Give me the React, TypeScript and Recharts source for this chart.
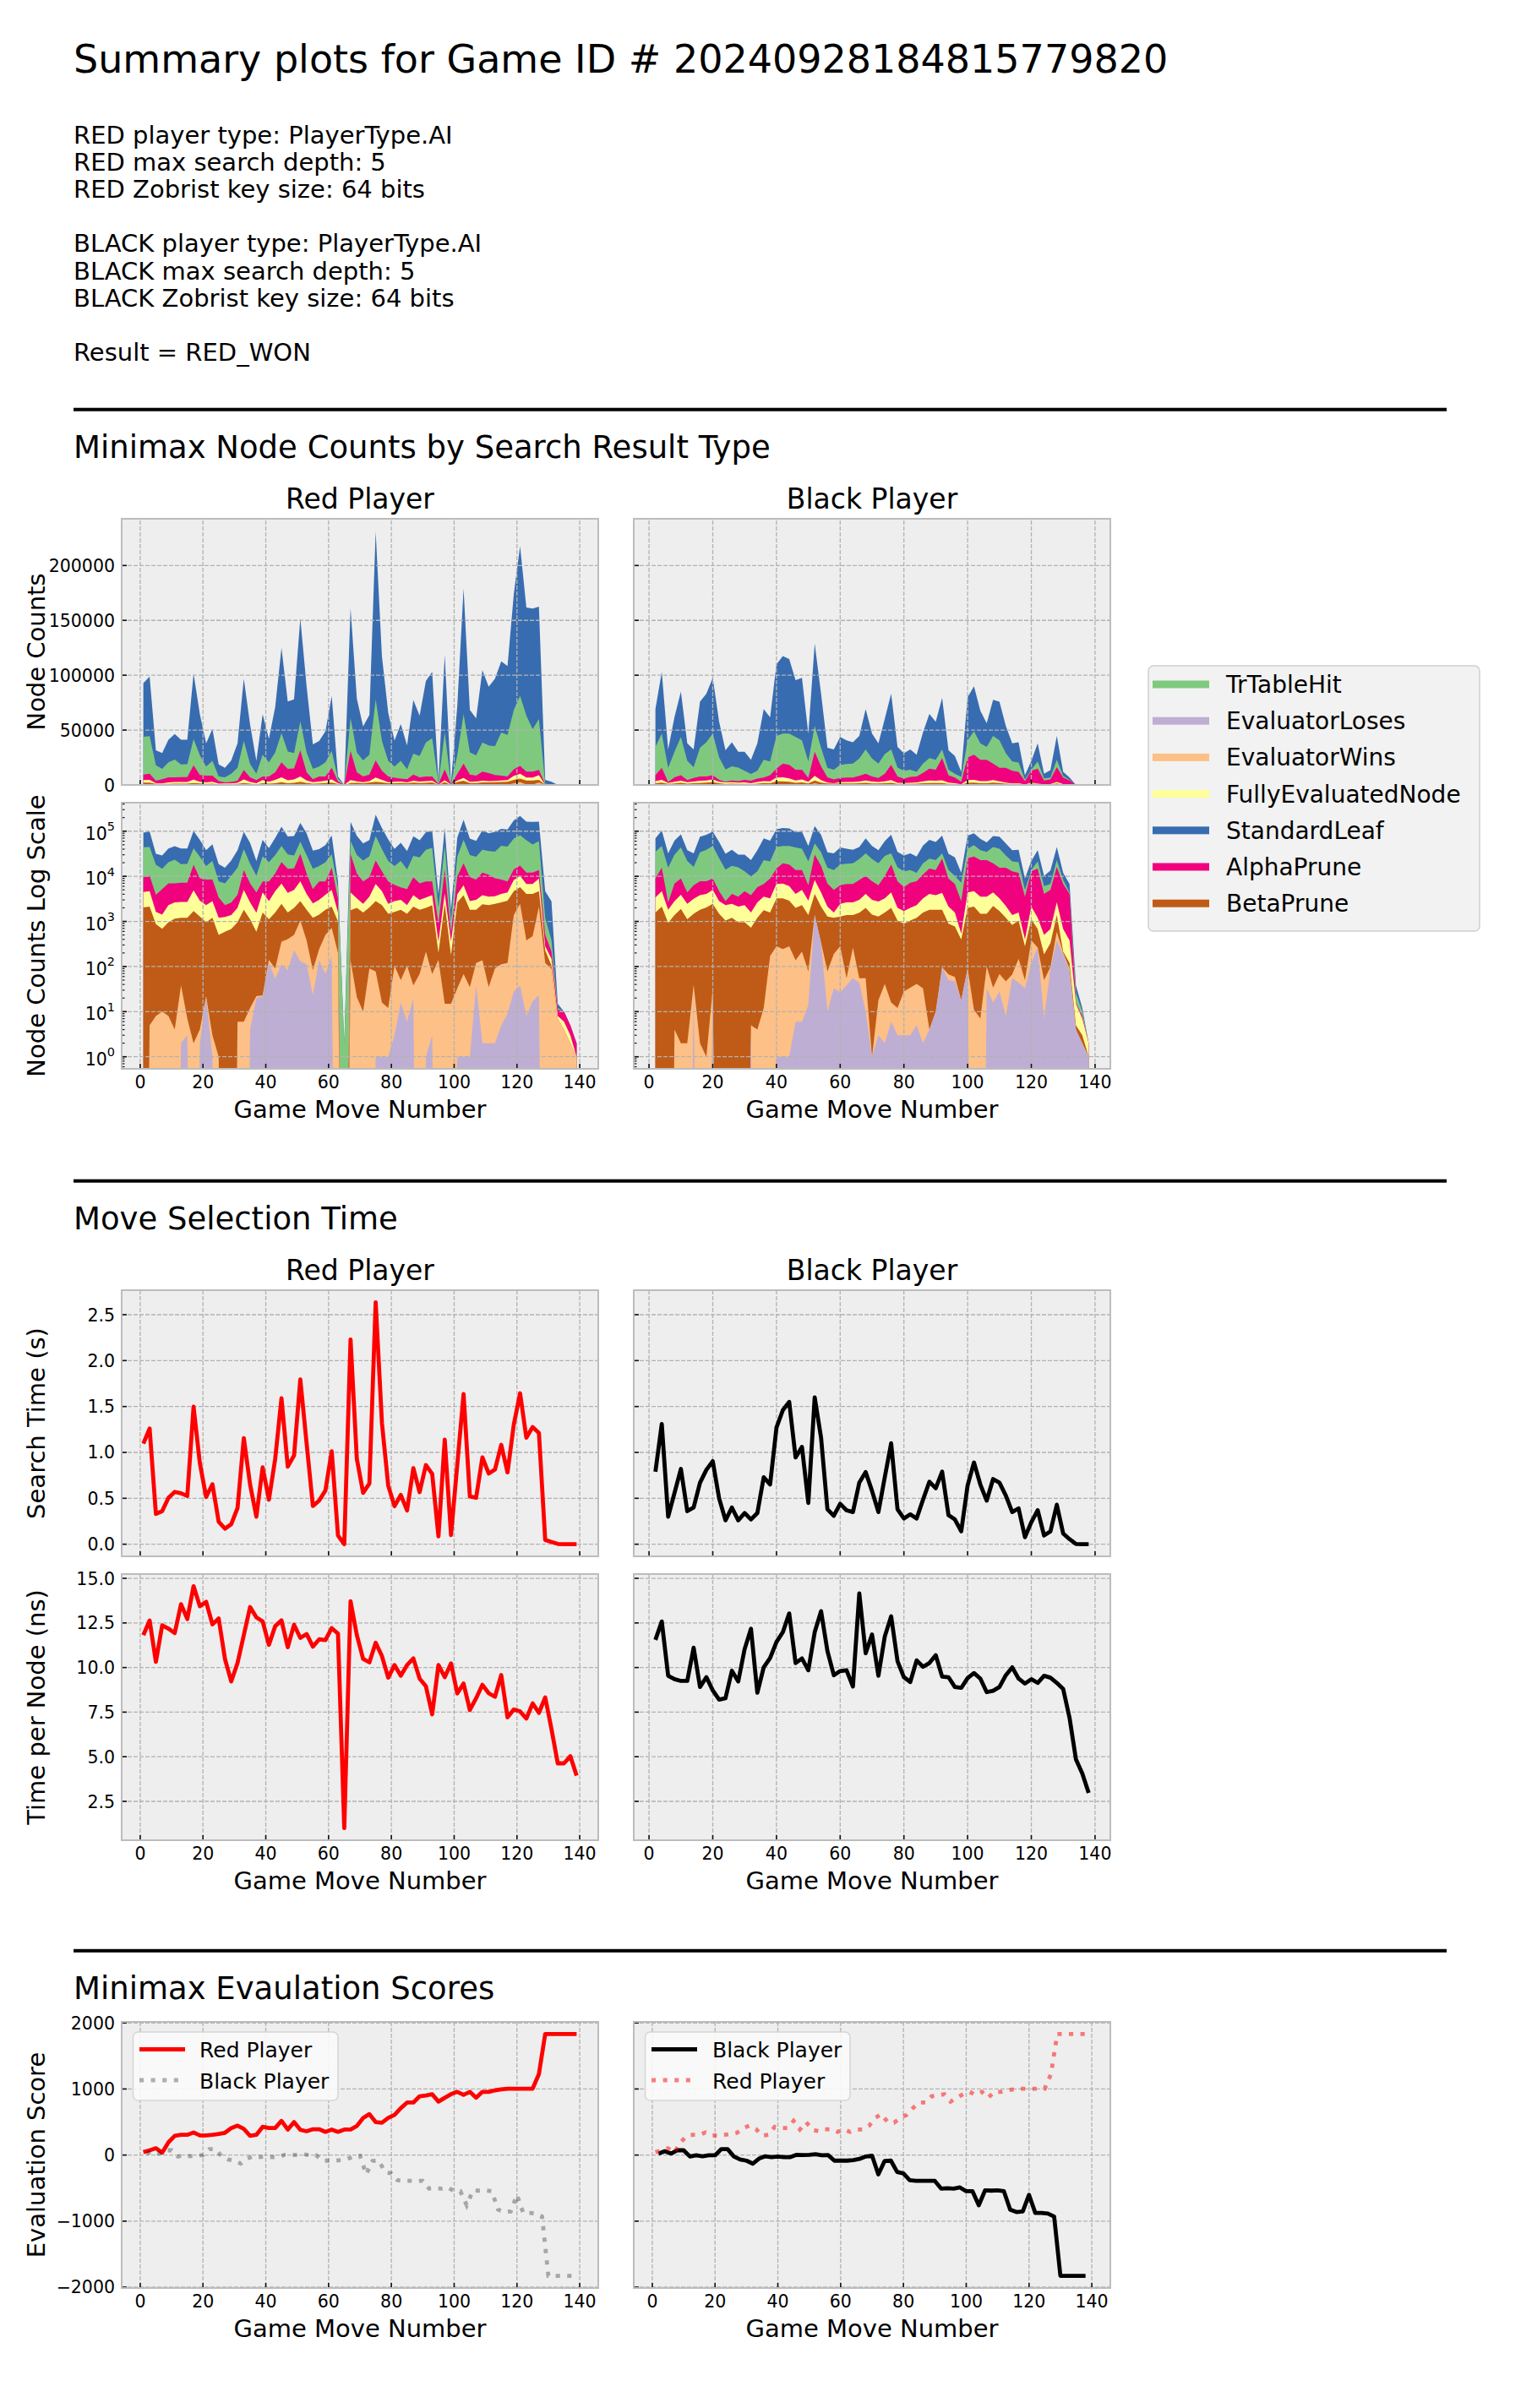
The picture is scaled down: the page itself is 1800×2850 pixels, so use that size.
import React from "react";
import {
  ComposedChart,
  Area,
  Line,
  XAxis,
  YAxis,
  CartesianGrid,
  ReferenceLine,
} from "recharts";

const FONT = "DejaVu Sans";

// Move numbers: red plays the odd moves, black the even ones
const redMoves = [
  1, 3, 5, 7, 9, 11, 13, 15, 17, 19, 21, 23, 25, 27, 29, 31, 33, 35, 37, 39,
  41, 43, 45, 47, 49, 51, 53, 55, 57, 59, 61, 63, 65, 67, 69, 71, 73, 75, 77, 79,
  81, 83, 85, 87, 89, 91, 93, 95, 97, 99, 101, 103, 105, 107, 109, 111, 113, 115, 117, 119,
  121, 123, 125, 127, 129, 131, 133, 135, 137, 139,
];
const blackMoves = [
  2, 4, 6, 8, 10, 12, 14, 16, 18, 20, 22, 24, 26, 28, 30, 32, 34, 36, 38, 40,
  42, 44, 46, 48, 50, 52, 54, 56, 58, 60, 62, 64, 66, 68, 70, 72, 74, 76, 78, 80,
  82, 84, 86, 88, 90, 92, 94, 96, 98, 100, 102, 104, 106, 108, 110, 112, 114, 116, 118, 120,
  122, 124, 126, 128, 130, 132, 134, 136, 138,
];

// Node counts by search result type - red player
const redTrTableHit = [
  34400, 34100, 14100, 9500, 13600, 16200, 11400, 11600, 23800, 18000,
  8300, 13400, 4300, 4700, 7700, 11600, 26300, 12000, 5900, 19900,
  12900, 18100, 26600, 15700, 14000, 26500, 18100, 9500, 9100, 12900,
  15500, 2400, 2, 30000, 18100, 14700, 18100, 55500, 27100, 14200,
  10300, 16200, 9000, 18900, 19300, 31000, 34900, 1110, 33500, 440,
  17000, 45100, 20200, 18500, 26600, 25300, 26300, 39200, 38000, 54200,
  64000, 51100, 38700, 46400, 700, 166, 1, 0, 0, 0,
];
const redEvaluatorLoses = [
  0, 0, 0, 0, 0, 0, 2, 3, 0, 2,
  21, 1, 0, 0, 0, 0, 0, 4, 20, 22,
  120, 54, 112, 84, 230, 130, 112, 23, 138, 68,
  170, 0, 0, 0, 0, 0, 0, 1, 1, 1,
  3, 16, 6, 20, 0, 1, 3, 0, 0, 0,
  1, 1, 1, 38, 2, 2, 2, 5, 9, 28,
  38, 8, 17, 23, 0, 0, 0, 0, 0, 0,
];
const redEvaluatorWins = [
  0, 5, 8, 10, 8, 4, 36, 4, 2, 2,
  1, 2, 1, 0, 0, 6, 6, 8, 2, 1,
  20, 36, 243, 323, 270, 900, 268, 61, 107, 432,
  550, 200, 0, 138, 21, 10, 90, 77, 15, 11,
  101, 34, 98, 18, 68, 213, 65, 140, 15, 15,
  32, 67, 34, 82, 136, 33, 88, 107, 111, 1352,
  2412, 372, 453, 2117, 120, 89, 7, 4, 2, 1,
];
const redFullyEvaluatedNode = [
  2430, 2540, 750, 720, 1335, 1480, 1490, 1490, 3200, 1590,
  1335, 1620, 700, 670, 704, 1045, 3190, 1510, 960, 2790,
  1700, 3100, 4470, 2690, 3010, 4940, 2250, 1310, 1610, 2070,
  2870, 600, 0, 2590, 1240, 870, 1510, 3940, 2390, 970,
  1200, 1200, 810, 1660, 1200, 1390, 1510, 155, 1720, 177,
  1350, 2510, 1000, 1200, 1400, 1260, 1180, 1440, 1490, 3640,
  4450, 2690, 2690, 4230, 53, 43, 1, 2, 1, 0,
];
const redStandardLeaf = [
  49000, 54400, 13500, 14300, 20700, 23200, 22700, 22500, 59600, 37500,
  21100, 29100, 10900, 8500, 12100, 22400, 56800, 36000, 11600, 36900,
  21400, 41300, 77800, 45600, 49000, 93700, 60300, 22200, 23200, 28400,
  50000, 2100, 0, 100000, 49000, 31000, 36100, 153100, 77000, 43900,
  23700, 33600, 21900, 49000, 36900, 56000, 60400, 1980, 71000, 800,
  45000, 114500, 38700, 33600, 65800, 53400, 61500, 65000, 62700, 105600,
  136200, 98600, 109900, 102400, 3500, 2420, 3, 0, 0, 0,
];
const redAlphaPrune = [
  5030, 5620, 2280, 3790, 4710, 4370, 4510, 4510, 13100, 6120,
  6210, 5680, 2200, 1040, 1220, 1900, 8690, 4370, 2850, 3330,
  4880, 6920, 13700, 10430, 9990, 23740, 7530, 2690, 4680, 3810,
  10490, 1600, 0, 26630, 8360, 5250, 5950, 15640, 8220, 5250,
  3680, 2680, 2910, 5700, 3980, 4310, 3900, 535, 10030, 205,
  6000, 13090, 6680, 5480, 8300, 7250, 5370, 4430, 3330, 5880,
  7100, 5340, 5340, 4790, 218, 66, 3, 4, 2, 1,
];
const redBetaPrune = [
  2040, 2135, 862, 680, 947, 1146, 1162, 1193, 1698, 1286,
  934, 1198, 499, 590, 676, 949, 1814, 1108, 568, 1557,
  980, 1490, 2095, 1173, 1500, 1790, 1440, 1116, 1165, 1320,
  1420, 800, 0, 1640, 1980, 1570, 1950, 2742, 2274, 1468,
  1516, 1770, 1376, 2102, 1752, 1786, 2222, 60, 2435, 163,
  2597, 3732, 1785, 1700, 2262, 2255, 2360, 2518, 2760, 3300,
  3300, 3690, 3600, 2540, 109, 16, 0, 0, 0, 0,
];

// Node counts by search result type - black player
const blackTrTableHit = [
  25800, 31300, 12870, 23280, 34790, 17530, 9890, 26140, 31140, 37890,
  20420, 11280, 12930, 12250, 8220, 6200, 7150, 16140, 12490, 29900,
  27300, 28600, 29900, 26900, 15090, 23500, 16900, 8580, 8790, 11890,
  12340, 12740, 15680, 22200, 16240, 13190, 18000, 14200, 8040, 7150,
  6560, 4240, 8500, 9700, 9100, 7900, 4890, 3440, 4420, 15600,
  21500, 15100, 11800, 25200, 25200, 13300, 8500, 8400, 1460, 900,
  6600, 1960, 1750, 6700, 1560, 300, 10, 2, 0,
];
const blackEvaluatorLoses = [
  0, 0, 0, 0, 0, 0, 38, 0, 0, 31,
  0, 0, 0, 0, 0, 4, 0, 0, 0, 1,
  1, 1, 6, 6, 14, 1380, 330, 10, 33, 27,
  38, 55, 44, 10, 1, 3, 2, 6, 3, 3,
  3, 5, 2, 4, 10, 97, 50, 47, 18, 90,
  0, 0, 33, 16, 28, 8, 55, 44, 33, 120,
  263, 7, 89, 380, 186, 78, 4, 2, 1,
];
const blackEvaluatorWins = [
  0, 0, 0, 4, 2, 2, 1, 2, 1, 1,
  0, 0, 0, 0, 0, 1, 4, 12, 170, 281,
  244, 281, 132, 208, 64, 20, 10, 68, 157, 255,
  17, 208, 11, 45, 0, 15, 39, 10, 9, 25,
  31, 36, 31, 0, 0, 0, 17, 12, 0, 0,
  11, 7, 67, 18, 40, 39, 12, 104, 17, 260,
  0, 43, 9, 210, 14, 11, 0, 0, 0,
];
const blackFullyEvaluatedNode = [
  1810, 2540, 887, 1440, 1990, 1330, 1680, 1980, 2030, 2560,
  1340, 1240, 1250, 1185, 1335, 856, 1430, 1770, 1660, 3520,
  3680, 3150, 2070, 2720, 1500, 4250, 2230, 850, 380, 1160,
  1250, 1250, 1470, 2070, 1610, 1460, 1660, 2370, 950, 809,
  950, 1090, 1660, 2250, 1980, 2450, 1250, 804, 139, 2370,
  2540, 2070, 2070, 2180, 1540, 990, 548, 530, 120, 1020,
  524, 315, 345, 1250, 462, 260, 10, 4, 1,
];
const blackStandardLeaf = [
  34500, 56200, 16900, 31800, 41400, 16100, 16200, 42000, 44300, 50900,
  32400, 17500, 21900, 14400, 17300, 12900, 25100, 46300, 40300, 65300,
  70700, 68000, 51800, 57000, 25400, 75100, 49300, 18400, 18600, 25500,
  21600, 19400, 20700, 36800, 22800, 18500, 32100, 50800, 18900, 15900,
  18600, 15500, 28400, 40100, 34600, 47000, 17800, 16100, 4760, 39300,
  41000, 29600, 21500, 32900, 35200, 24900, 16600, 18500, 3900, 8100,
  16600, 4170, 6740, 21800, 3680, 2390, 12, 2, 0,
];
const blackAlphaPrune = [
  5520, 10820, 810, 4100, 5020, 1920, 3150, 3960, 3690, 3900,
  1860, 530, 1620, 1410, 2390, 2220, 3120, 3210, 5670, 8040,
  12580, 12170, 9730, 8790, 3430, 21880, 12630, 4780, 3430, 3860,
  4130, 4130, 5300, 6130, 4740, 3560, 6960, 13830, 5760, 4050,
  5240, 5470, 7760, 10730, 10000, 20230, 6770, 5180, 2280, 20730,
  22820, 19350, 19350, 15130, 12260, 13310, 11520, 10420, 3150, 10760,
  13600, 3570, 4334, 13570, 6084, 3690, 1, 1, 0,
];
const blackBetaPrune = [
  1580, 2140, 933, 1376, 1898, 1118, 1441, 1818, 2038, 2418,
  1480, 1050, 1200, 955, 955, 719, 1196, 1768, 1410, 2958,
  2995, 2598, 1862, 2076, 1302, 2670, 1800, 1212, 1010, 1008,
  1325, 1117, 1495, 1945, 1409, 1272, 1539, 1984, 1038, 863,
  1016, 1159, 1547, 1816, 1810, 1723, 824, 717, 380, 1910,
  2129, 1473, 1380, 2156, 1632, 1153, 765, 902, 230, 740,
  413, 136, 233, 790, 14, 31, 1, 1, 0,
];

// Search time (s)
const redSearchTime = [
  1.095, 1.26, 0.33, 0.36, 0.506, 0.57, 0.555, 0.525, 1.497, 0.883,
  0.515, 0.653, 0.245, 0.17, 0.218, 0.393, 1.156, 0.65, 0.3, 0.837,
  0.485, 0.93, 1.589, 0.844, 0.966, 1.794, 1.1, 0.417, 0.475, 0.586,
  1.012, 0.095, 0.0, 2.23, 0.93, 0.56, 0.66, 2.635, 1.32, 0.638,
  0.414, 0.537, 0.368, 0.828, 0.567, 0.862, 0.767, 0.086, 1.138, 0.1,
  0.868, 1.635, 0.521, 0.506, 0.945, 0.77, 0.813, 1.083, 0.782, 1.304,
  1.644, 1.16, 1.276, 1.212, 0.046, 0.025, 0.003, 0, 0, 0,
];
const blackSearchTime = [
  0.79, 1.31, 0.3, 0.56, 0.82, 0.36, 0.4, 0.67, 0.81, 0.905,
  0.5, 0.26, 0.4, 0.26, 0.34, 0.27, 0.34, 0.73, 0.65, 1.27,
  1.46, 1.55, 0.945, 1.06, 0.45, 1.6, 1.16, 0.38, 0.31, 0.44,
  0.37, 0.35, 0.67, 0.785, 0.58, 0.35, 0.73, 1.1, 0.38, 0.28,
  0.325, 0.28, 0.485, 0.68, 0.61, 0.79, 0.316, 0.27, 0.14, 0.64,
  0.89, 0.65, 0.475, 0.71, 0.67, 0.53, 0.35, 0.39, 0.077, 0.24,
  0.37, 0.095, 0.14, 0.43, 0.117, 0.055, 0.003, 0, 0,
];

// Time per node (ns)
const redTimePerNode = [
  11.82, 12.64, 10.32, 12.37, 12.18, 11.93, 13.55, 12.72, 14.56, 13.44,
  13.68, 12.42, 12.75, 10.48, 9.22, 10.25, 11.82, 13.39, 12.81, 12.59,
  11.27, 12.32, 12.64, 11.14, 12.4, 11.66, 11.88, 11.17, 11.58, 11.54,
  12.21, 11.9, 1.0, 13.71, 11.82, 10.48, 10.29, 11.39, 10.64, 9.43,
  10.14, 9.54, 10.14, 10.51, 9.38, 8.95, 7.38, 10.14, 9.46, 10.23,
  8.55, 9.1, 7.62, 8.28, 9.03, 8.56, 8.36, 9.58, 7.21, 7.65,
  7.54, 7.14, 7.99, 7.46, 8.33, 6.55, 4.63, 4.63, 5.03, 3.95,
];
const blackTimePerNode = [
  11.55, 12.58, 9.54, 9.35, 9.25, 9.25, 11.11, 8.91, 9.46, 8.72,
  8.2, 8.28, 9.82, 9.22, 11.03, 12.17, 8.59, 10.01, 10.53, 11.43,
  11.98, 13.03, 10.25, 10.51, 9.85, 11.98, 13.16, 10.92, 9.57, 9.8,
  9.85, 8.94, 14.15, 10.8, 11.85, 9.54, 11.74, 12.87, 10.36, 9.46,
  9.19, 10.4, 10.04, 10.25, 10.69, 9.49, 9.46, 8.91, 8.86, 9.41,
  9.69, 9.38, 8.62, 8.7, 8.91, 9.57, 10.01, 9.38, 9.1, 9.35,
  9.14, 9.54, 9.43, 9.14, 8.8, 7.18, 4.86, 4.06, 2.97,
];

// Minimax evaluation scores
const redEvalScore = [
  45, 72, 103, 36, 193, 292, 306, 306, 342, 297,
  297, 306, 319, 337, 409, 445, 395, 292, 306, 427,
  409, 409, 517, 386, 499, 382, 360, 391, 391, 351,
  386, 351, 386, 386, 440, 562, 620, 499, 490, 562,
  607, 710, 795, 795, 890, 903, 921, 809, 867, 921,
  957, 912, 957, 867, 957, 957, 980, 993, 1005, 1005,
  1005, 1005, 1005, 1227, 1833, 1833, 1833, 1833, 1833, 1833,
];
const blackEvalScore = [
  22, 58, 22, 72, 72, -22, -4, -18, -4, -4,
  90, 90, -22, -67, -85, -130, -54, -18, -31, -22,
  -31, -31, 4, 0, 4, 13, -4, 0, -85, -85,
  -85, -76, -58, -22, -9, -292, -90, -85, -256, -279,
  -382, -391, -391, -391, -391, -508, -503, -508, -490, -548,
  -548, -760, -535, -539, -535, -548, -827, -863, -854, -602,
  -876, -876, -885, -930, -1829, -1829, -1829, -1829, -1829,
];

// Ticks
const xTicks = [0, 20, 40, 60, 80, 100, 120, 140];
const countTicks = [0, 50000, 100000, 150000, 200000];
const logMajorTicks = [1, 10, 100, 1000, 10000, 100000];
const logTicks = [
  0.6, 0.7, 0.8, 0.9, 1, 2, 3, 4, 5, 6, 7, 8, 9, 10, 20, 30, 40, 50, 60, 70, 80, 90,
  100, 200, 300, 400, 500, 600, 700, 800, 900, 1000, 2000, 3000, 4000, 5000, 6000, 7000, 8000, 9000,
  10000, 20000, 30000, 40000, 50000, 60000, 70000, 80000, 90000, 100000, 200000, 300000, 400000,
];
const searchTicks = [0, 0.5, 1, 1.5, 2, 2.5];
const perNodeTicks = [2.5, 5, 7.5, 10, 12.5, 15];
const evalTicks = [-2000, -1000, 0, 1000, 2000];

const stackOrder = [
  "EvaluatorLoses",
  "EvaluatorWins",
  "BetaPrune",
  "FullyEvaluatedNode",
  "AlphaPrune",
  "TrTableHit",
  "StandardLeaf",
];
const legendOrder = [
  "TrTableHit",
  "EvaluatorLoses",
  "EvaluatorWins",
  "FullyEvaluatedNode",
  "StandardLeaf",
  "AlphaPrune",
  "BetaPrune",
];
const layerColor: Record<string, string> = {
  TrTableHit: "#7fc97f",
  EvaluatorLoses: "#beaed4",
  EvaluatorWins: "#fdc086",
  FullyEvaluatedNode: "#ffff99",
  StandardLeaf: "#386cb0",
  AlphaPrune: "#f0027f",
  BetaPrune: "#bf5b17",
};

const redCounts: Record<string, number[]> = {
  TrTableHit: redTrTableHit,
  EvaluatorLoses: redEvaluatorLoses,
  EvaluatorWins: redEvaluatorWins,
  FullyEvaluatedNode: redFullyEvaluatedNode,
  StandardLeaf: redStandardLeaf,
  AlphaPrune: redAlphaPrune,
  BetaPrune: redBetaPrune,
};
const blackCounts: Record<string, number[]> = {
  TrTableHit: blackTrTableHit,
  EvaluatorLoses: blackEvaluatorLoses,
  EvaluatorWins: blackEvaluatorWins,
  FullyEvaluatedNode: blackFullyEvaluatedNode,
  StandardLeaf: blackStandardLeaf,
  AlphaPrune: blackAlphaPrune,
  BetaPrune: blackBetaPrune,
};

// layout (px)
const PW = 564;
const PH = 315;
const AXW = 140;
const MT = 10;
const MR = 14;
const AXH = 44;
const RED_X = 144;
const BLACK_X = 750;
const ROWS = [614, 950, 1527, 1863, 2393];

const redXDomain = [-5.9, 145.9];
const blackXDomain = [-4.8, 144.8];
const evalXDomain = [-5.9, 145.9];
const countDomain = [0, 242600];
const logDomain = [0.54, 428500];
const searchDomain = [-0.132, 2.767];
const perNodeDomain = [0.322, 15.238];
const evalDomain = [-2013, 2016];

// zero counts can't go on a log axis, push them far below the bottom edge
const LOG_FLOOR = 1e-12;

const stackRows = (moves: number[], counts: Record<string, number[]>) =>
  moves.map((move, i) => {
    const row: Record<string, number> = { move };
    let total = 0;
    stackOrder.forEach((name, k) => {
      total += counts[name][i];
      row[`top${k}`] = total;
      row[`logTop${k}`] = Math.max(total, LOG_FLOOR);
    });
    return row;
  });

const pairs = (moves: number[], values: number[]) =>
  moves.map((move, i) => ({ move, value: values[i] }));

const gridStyle = { stroke: "#b2b2b2", strokeWidth: 1.3, strokeDasharray: "5 2" };

const XTick = (props: any) => {
  const { x, y, payload, showLabel } = props;
  return (
    <g>
      <line x1={x} x2={x} y1={y} y2={y - 6} stroke="#111" strokeWidth={1.6} />
      {showLabel ? (
        <text x={x} y={y + 23} textAnchor="middle" fontSize={20.5} fontFamily={FONT} fill="#000">
          {payload.value}
        </text>
      ) : null}
    </g>
  );
};

const YTick = (props: any) => {
  const { x, y, payload, showLabel, fmt } = props;
  return (
    <g>
      <line x1={x} x2={x + 6} y1={y} y2={y} stroke="#111" strokeWidth={1.6} />
      {showLabel ? (
        <text x={x - 8} y={y + 7.5} textAnchor="end" fontSize={20.5} fontFamily={FONT} fill="#000">
          {fmt(payload.value)}
        </text>
      ) : null}
    </g>
  );
};

const LogTick = (props: any) => {
  const { x, y, payload, showLabel } = props;
  const v = payload.value;
  const major = logMajorTicks.includes(v);
  return (
    <g>
      <line
        x1={x}
        x2={x + (major ? 6 : 3.5)}
        y1={y}
        y2={y}
        stroke="#111"
        strokeWidth={major ? 1.6 : 1.2}
      />
      {showLabel && major ? (
        <text x={x - 8} y={y + 10} textAnchor="end" fontSize={20.5} fontFamily={FONT} fill="#000">
          10
          <tspan dy={-10.5} fontSize={14.4}>
            {Math.round(Math.log10(v))}
          </tspan>
        </text>
      ) : null}
    </g>
  );
};

const fmtInt = (v: number) => String(v);
const fmt1 = (v: number) => v.toFixed(1);
const fmtEval = (v: number) => (v < 0 ? "\u2212" + Math.abs(v) : String(v));

function Panel({ x, y, children }: { x: number; y: number; children: React.ReactNode }) {
  return (
    <>
      <div style={{ position: "absolute", left: x, top: y, width: PW, height: PH, background: "#eeeeee" }} />
      <div style={{ position: "absolute", left: x - AXW, top: y - MT }}>{children}</div>
      <div
        style={{
          position: "absolute",
          left: x - 1.25,
          top: y - 1.25,
          width: PW + 2.5,
          height: PH + 2.5,
          border: "2.5px solid #bcbcbc",
          boxSizing: "border-box",
          pointerEvents: "none",
        }}
      />
    </>
  );
}

const xAxis = (domain: number[], showLabel: boolean) => (
  <XAxis
    dataKey="move"
    type="number"
    domain={domain}
    ticks={xTicks}
    interval={0}
    allowDataOverflow
    axisLine={false}
    tickLine={false}
    tickSize={0}
    tickMargin={0}
    height={AXH}
    tick={(p: any) => <XTick {...p} showLabel={showLabel} />}
  />
);

function CountChart({ rows, xDomain, log, yLabels, xLabels }: any) {
  return (
    <ComposedChart
      width={AXW + PW + MR}
      height={MT + PH + AXH}
      data={rows}
      margin={{ top: MT, right: MR, bottom: 0, left: 0 }}
    >
      {[6, 5, 4, 3, 2, 1, 0].map((k) => (
        <Area
          key={k}
          type="linear"
          dataKey={log ? `logTop${k}` : `top${k}`}
          fill={layerColor[stackOrder[k]]}
          fillOpacity={1}
          stroke="none"
          dot={false}
          activeDot={false}
          baseValue={log ? "dataMin" : 0}
          isAnimationActive={false}
        />
      ))}
      {xTicks.map((v) => (
        <ReferenceLine key={`gx${v}`} x={v} {...gridStyle} zIndex={450} />
      ))}
      {(log ? logMajorTicks : countTicks).map((v) => (
        <ReferenceLine key={`gy${v}`} y={v} {...gridStyle} zIndex={450} />
      ))}
      {xAxis(xDomain, xLabels)}
      <YAxis
        type="number"
        scale={log ? "log" : "linear"}
        domain={log ? logDomain : countDomain}
        ticks={log ? logTicks : countTicks}
        interval={0}
        allowDataOverflow
        axisLine={false}
        tickLine={false}
        tickSize={0}
        tickMargin={0}
        width={AXW}
        tick={(p: any) =>
          log ? <LogTick {...p} showLabel={yLabels} /> : <YTick {...p} showLabel={yLabels} fmt={fmtInt} />
        }
      />
    </ComposedChart>
  );
}

function TimeChart({ data, color, xDomain, yDomain, yTicks, yLabels, xLabels }: any) {
  return (
    <ComposedChart
      width={AXW + PW + MR}
      height={MT + PH + AXH}
      data={data}
      margin={{ top: MT, right: MR, bottom: 0, left: 0 }}
    >
      <CartesianGrid {...gridStyle} />
      <Line
        type="linear"
        dataKey="value"
        stroke={color}
        strokeWidth={4.8}
        strokeLinejoin="round"
        dot={false}
        activeDot={false}
        isAnimationActive={false}
      />
      {xAxis(xDomain, xLabels)}
      <YAxis
        type="number"
        domain={yDomain}
        ticks={yTicks}
        interval={0}
        allowDataOverflow
        axisLine={false}
        tickLine={false}
        tickSize={0}
        tickMargin={0}
        width={AXW}
        tick={(p: any) => <YTick {...p} showLabel={yLabels} fmt={fmt1} />}
      />
    </ComposedChart>
  );
}

function EvalChart({ own, ownColor, other, otherColor, otherOpacity, yLabels }: any) {
  return (
    <ComposedChart
      width={AXW + PW + MR}
      height={MT + PH + AXH}
      margin={{ top: MT, right: MR, bottom: 0, left: 0 }}
    >
      <CartesianGrid {...gridStyle} />
      <Line
        data={own}
        type="linear"
        dataKey="value"
        stroke={ownColor}
        strokeWidth={4.8}
        strokeLinejoin="round"
        dot={false}
        activeDot={false}
        isAnimationActive={false}
      />
      <Line
        data={other}
        type="linear"
        dataKey="value"
        stroke={otherColor}
        strokeOpacity={otherOpacity}
        strokeWidth={4.8}
        strokeDasharray="5.1 8.5"
        dot={false}
        activeDot={false}
        isAnimationActive={false}
      />
      {xAxis(evalXDomain, true)}
      <YAxis
        type="number"
        domain={evalDomain}
        ticks={evalTicks}
        interval={0}
        allowDataOverflow
        axisLine={false}
        tickLine={false}
        tickSize={0}
        tickMargin={0}
        width={AXW}
        tick={(p: any) => <YTick {...p} showLabel={yLabels} fmt={fmtEval} />}
      />
    </ComposedChart>
  );
}

const pageTitle = "Summary plots for Game ID # 20240928184815779820";
const infoLines = [
  "RED player type: PlayerType.AI",
  "RED max search depth: 5",
  "RED Zobrist key size: 64 bits",
  "",
  "BLACK player type: PlayerType.AI",
  "BLACK max search depth: 5",
  "BLACK Zobrist key size: 64 bits",
  "",
  "Result = RED_WON",
];
const sections = [
  { rule: 484.7, heading: "Minimax Node Counts by Search Result Type" },
  { rule: 1397.7, heading: "Move Selection Time" },
  { rule: 2308.8, heading: "Minimax Evaulation Scores" },
];
const yLabels = [
  "Node Counts",
  "Node Counts Log Scale",
  "Search Time (s)",
  "Time per Node (ns)",
  "Evaluation Score",
];

function Overlay() {
  const redCx = RED_X + PW / 2;
  const blackCx = BLACK_X + PW / 2;
  return (
    <svg
      width={1800}
      height={2850}
      style={{ position: "absolute", left: 0, top: 0, pointerEvents: "none" }}
      fontFamily={FONT}
      fill="#000"
    >
      <text x={87} y={86} fontSize={46}>
        {pageTitle}
      </text>
      {infoLines.map((line, i) =>
        line ? (
          <text key={i} x={87} y={170 + i * 32.1} fontSize={29}>
            {line}
          </text>
        ) : null
      )}
      {sections.map((s) => (
        <g key={s.heading}>
          <rect x={87} y={s.rule - 2} width={1625} height={4} fill="#000" />
          <text x={87} y={s.rule + 57.5} fontSize={37}>
            {s.heading}
          </text>
        </g>
      ))}
      {[602, 1515].map((by) => (
        <g key={by}>
          <text x={redCx} y={by} fontSize={33} textAnchor="middle">
            Red Player
          </text>
          <text x={blackCx} y={by} fontSize={33} textAnchor="middle">
            Black Player
          </text>
        </g>
      ))}
      {yLabels.map((label, i) => (
        <text
          key={label}
          transform={`translate(53, ${ROWS[i] + PH / 2}) rotate(-90)`}
          textAnchor="middle"
          fontSize={29}
        >
          {label}
        </text>
      ))}
      {[ROWS[1], ROWS[3], ROWS[4]].map((top) => (
        <g key={top}>
          <text x={redCx} y={top + PH + 58} fontSize={29} textAnchor="middle">
            Game Move Number
          </text>
          <text x={blackCx} y={top + PH + 58} fontSize={29} textAnchor="middle">
            Game Move Number
          </text>
        </g>
      ))}

      {/* node count legend */}
      <rect x={1359} y={788} width={392} height={314} rx={6} fill="#f2f2f2" stroke="#d0d0d0" strokeWidth={1.5} />
      {legendOrder.map((name, i) => (
        <g key={name}>
          <rect x={1364} y={810 + i * 43.2 - 4.5} width={67} height={9} fill={layerColor[name]} />
          <text x={1451} y={820 + i * 43.2} fontSize={28}>
            {name}
          </text>
        </g>
      ))}

      {/* evaluation legends */}
      <rect x={157.5} y={2405} width={242.5} height={81} rx={6} fill="#fafafa" fillOpacity={0.9} stroke="#d5d5d5" strokeWidth={1.5} />
      <line x1={165} x2={219} y1={2425.5} y2={2425.5} stroke="#ff0000" strokeWidth={4.8} />
      <text x={236} y={2435} fontSize={25}>Red Player</text>
      <line x1={165} x2={219} y1={2462} y2={2462} stroke="#000" strokeOpacity={0.3} strokeWidth={4.8} strokeDasharray="5.1 8.5" />
      <text x={236} y={2472} fontSize={25}>Black Player</text>

      <rect x={763.5} y={2405} width={242.5} height={81} rx={6} fill="#fafafa" fillOpacity={0.9} stroke="#d5d5d5" strokeWidth={1.5} />
      <line x1={771} x2={825} y1={2425.5} y2={2425.5} stroke="#000" strokeWidth={4.8} />
      <text x={843} y={2435} fontSize={25}>Black Player</text>
      <line x1={771} x2={825} y1={2462} y2={2462} stroke="#ff0000" strokeOpacity={0.5} strokeWidth={4.8} strokeDasharray="5.1 8.5" />
      <text x={843} y={2472} fontSize={25}>Red Player</text>
    </svg>
  );
}

export default function App() {
  const redRows = stackRows(redMoves, redCounts);
  const blackRows = stackRows(blackMoves, blackCounts);

  return (
    <div
      style={{
        position: "absolute",
        left: 0,
        top: 0,
        width: 1800,
        height: 2850,
        background: "#ffffff",
        fontFamily: FONT,
        overflow: "hidden",
      }}
    >
      <Panel x={RED_X} y={ROWS[0]}>
        <CountChart rows={redRows} xDomain={redXDomain} log={false} yLabels xLabels={false} />
      </Panel>
      <Panel x={BLACK_X} y={ROWS[0]}>
        <CountChart rows={blackRows} xDomain={blackXDomain} log={false} yLabels={false} xLabels={false} />
      </Panel>
      <Panel x={RED_X} y={ROWS[1]}>
        <CountChart rows={redRows} xDomain={redXDomain} log yLabels xLabels />
      </Panel>
      <Panel x={BLACK_X} y={ROWS[1]}>
        <CountChart rows={blackRows} xDomain={blackXDomain} log yLabels={false} xLabels />
      </Panel>

      <Panel x={RED_X} y={ROWS[2]}>
        <TimeChart
          data={pairs(redMoves, redSearchTime)}
          color="#ff0000"
          xDomain={redXDomain}
          yDomain={searchDomain}
          yTicks={searchTicks}
          yLabels
          xLabels={false}
        />
      </Panel>
      <Panel x={BLACK_X} y={ROWS[2]}>
        <TimeChart
          data={pairs(blackMoves, blackSearchTime)}
          color="#000000"
          xDomain={blackXDomain}
          yDomain={searchDomain}
          yTicks={searchTicks}
          yLabels={false}
          xLabels={false}
        />
      </Panel>
      <Panel x={RED_X} y={ROWS[3]}>
        <TimeChart
          data={pairs(redMoves, redTimePerNode)}
          color="#ff0000"
          xDomain={redXDomain}
          yDomain={perNodeDomain}
          yTicks={perNodeTicks}
          yLabels
          xLabels
        />
      </Panel>
      <Panel x={BLACK_X} y={ROWS[3]}>
        <TimeChart
          data={pairs(blackMoves, blackTimePerNode)}
          color="#000000"
          xDomain={blackXDomain}
          yDomain={perNodeDomain}
          yTicks={perNodeTicks}
          yLabels={false}
          xLabels
        />
      </Panel>

      <Panel x={RED_X} y={ROWS[4]}>
        <EvalChart
          own={pairs(redMoves, redEvalScore)}
          ownColor="#ff0000"
          other={pairs(blackMoves, blackEvalScore)}
          otherColor="#000000"
          otherOpacity={0.3}
          yLabels
        />
      </Panel>
      <Panel x={BLACK_X} y={ROWS[4]}>
        <EvalChart
          own={pairs(blackMoves, blackEvalScore)}
          ownColor="#000000"
          other={pairs(redMoves, redEvalScore)}
          otherColor="#ff0000"
          otherOpacity={0.5}
          yLabels={false}
        />
      </Panel>

      <Overlay />
    </div>
  );
}
